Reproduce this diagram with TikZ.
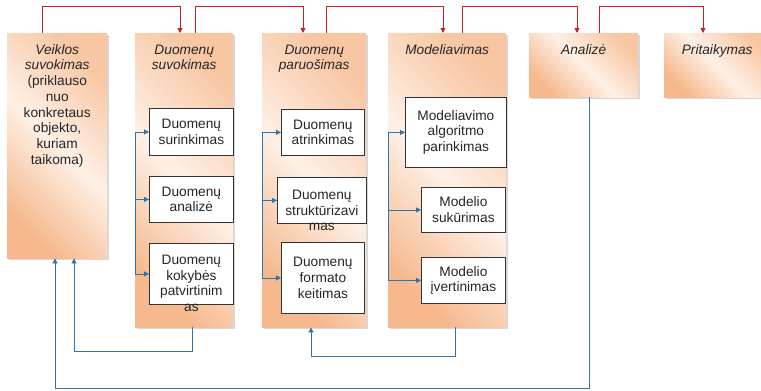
\documentclass[tikz,border=0pt]{standalone}
\usepackage{fontspec}
\setmainfont{Liberation Sans}
\usepackage{tikz}
\usetikzlibrary{arrows.meta}
\usetikzlibrary{shadows}
\definecolor{peach}{RGB}{246,184,140}
\definecolor{peachlight}{RGB}{254,240,230}
\definecolor{linkred}{RGB}{200,32,40}
\definecolor{linkblue}{RGB}{46,117,170}

\begin{document}
\begin{tikzpicture}[x=1pt,y=-1pt,
	stage node/.style={anchor=north west, inner xsep=3pt, inner ysep=0pt, align=center, text height=21pt,
		left color=peach, right color=peach!80, middle color=peachlight, shading angle=135,
		drop shadow={shadow xshift=1.8pt, shadow yshift=-1.8pt, fill=black!30},
		font=\fontsize{13.7}{15.7}\selectfont, text=black!85},
	task node/.style={anchor=north west, rectangle, draw=black!80, line width=0.8pt, fill=white, align=center,
		inner xsep=2pt, font=\fontsize{13.7}{15.7}\selectfont, text=black!85},
	red link/.style={draw=linkred, line width=0.8pt, -{Triangle[length=5pt,width=5pt]}},
	blue link/.style={draw=linkblue, line width=0.8pt},
	blue arrow/.style={blue link, -{Triangle[length=5pt,width=5pt]}}]
	\useasboundingbox (0,0) rectangle (761,391);
	
	% Nodes
	\node[stage node, text width=94pt, text depth=204pt] (1) at (7,33) {\textit{Veiklos}\\\textit{suvokimas}\\(priklauso\\nuo\\konkretaus\\objekto,\\kuriam\\taikoma)};
	\node[stage node, text width=92pt, text depth=273pt] (2) at (135,33) {\textit{Duomenų}\\\textit{suvokimas}};
	\node[stage node, text width=98pt, text depth=273pt] (3) at (262,33) {\textit{Duomenų}\\\textit{paruošimas}};
	\node[stage node, text width=112pt, text depth=273pt] (4) at (388,33) {\textit{Modeliavimas}};
	\node[stage node, text width=103pt, text depth=43pt] (5) at (529,33) {\textit{Analizė}};
	\node[stage node, text width=100pt, text depth=43pt] (6) at (664,33) {\textit{Pritaikymas}};
	
	\node[task node, text width=80pt, minimum height=47pt] (7) at (149,108) {Duomenų\\surinkimas};
	\node[task node, text width=80pt, minimum height=46pt] (8) at (149,176) {Duomenų\\analizė};
	\node[task node, text width=80pt, inner ysep=0pt, text height=21pt, text depth=40pt] (9) at (149,243) {Duomenų\\kokybės\\patvirtinim\\as};
	\node[task node, text width=79pt, minimum height=46pt] (10) at (281,109) {Duomenų\\atrinkimas};
	\node[task node, text width=85pt, inner ysep=0pt, text height=22pt, text depth=24pt] (11) at (277,177) {Duomenų\\struktūrizavi\\mas};
	\node[task node, text width=79pt, minimum height=71pt] (12) at (281,242) {Duomenų\\formato\\keitimas};
	\node[task node, text width=97pt, minimum height=70pt] (13) at (405,97) {Modeliavimo\\algoritmo\\parinkimas};
	\node[task node, text width=80pt, minimum height=45pt] (14) at (421,187) {Modelio\\sukūrimas};
	\node[task node, text width=80pt, minimum height=46pt] (15) at (421,257) {Modelio\\įvertinimas};
	
	% Sequence
	\draw[red link] ([xshift=35pt]1.north west) -- ++(0,-27) -| ([xshift=45pt]2.north west);
	\draw[red link] ([xshift=60pt]2.north west) -- ++(0,-27) -| ([xshift=41pt]3.north west);
	\draw[red link] ([xshift=64pt]3.north west) -- ++(0,-27) -| ([xshift=55pt]4.north west);
	\draw[red link] ([xshift=74pt]4.north west) -- ++(0,-27) -| ([xshift=48pt]5.north west);
	\draw[red link] ([xshift=70pt]5.north west) -- ++(0,-27) -| ([xshift=39pt]6.north west);
	
	% Sub steps
	\draw[blue link] (2.west |- 7.west) -- (2.west |- 9.west);
	\draw[blue arrow] (2.west |- 7.west) -- (7.west);
	\draw[blue arrow] (2.west |- 8.west) -- (8.west);
	\draw[blue arrow] (2.west |- 9.west) -- (9.west);
	
	\draw[blue link] (3.west |- 10.west) -- (3.west |- 12.west);
	\draw[blue arrow] (3.west |- 10.west) -- (10.west);
	\draw[blue arrow] (3.west |- 11.west) -- (11.west);
	\draw[blue arrow] (3.west |- 12.west) -- (12.west);
	
	\draw[blue link] (4.west |- 13.west) -- (4.west |- 15.west);
	\draw[blue arrow] (4.west |- 13.west) -- (13.west);
	\draw[blue arrow] (4.west |- 14.west) -- (14.west);
	\draw[blue arrow] (4.west |- 15.west) -- (15.west);
	
	% Feedback
	\draw[blue arrow] ([xshift=57pt]2.south west) -- ++(0,24) -| ([xshift=67pt]1.south west);
	\draw[blue arrow] ([xshift=67pt]4.south west) -- ++(0,29) -| ([xshift=49pt]3.south west);
	\draw[blue arrow] ([xshift=60pt]5.south west) -- ++(0,291) -| ([xshift=48pt]1.south west);
	
\end{tikzpicture}
\end{document}
